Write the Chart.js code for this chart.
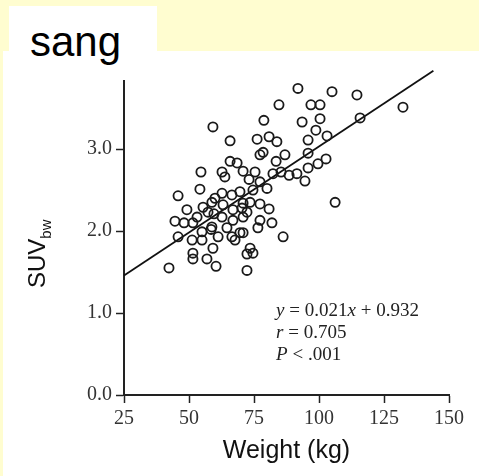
<!DOCTYPE html>
<html>
<head>
<meta charset="utf-8">
<script src="https://cdn.jsdelivr.net/npm/chart.js@4/dist/chart.umd.min.js"></script>
<style>
  html, body { margin: 0; padding: 0; }
  body { width: 479px; height: 476px; background: #FFFDD0; position: relative; overflow: hidden; }
  #panel { position: absolute; left: 3px; top: 51px; right: 0; bottom: 0; background: #fff; }
  #tag { position: absolute; left: 9px; top: 6px; width: 148px; height: 46px; background: #fff; }
  #tagText { position: absolute; left: 30px; top: 21px; font: 42px "Liberation Sans", Arial, sans-serif; color: #000; line-height: 1; }
  canvas { position: absolute; left: 0; top: 0; }
</style>
</head>
<body>
<div id="panel"></div>
<div id="tag"></div>
<div id="tagText">sang</div>
<canvas id="c" width="479" height="476"></canvas>
<script>
// Body weight (kg) and SUV normalised to body weight, one entry per patient
const weightKg = [
  59.2, 65.8, 65.8, 68.5, 70.8, 54.6, 62.7, 91.9, 105.0, 84.6,
  96.9, 100.4, 78.8, 93.5, 100.4, 98.8, 76.2, 80.8, 83.8, 95.8,
  103.1, 78.5, 77.3, 95.8, 86.9, 102.7, 99.6, 83.5, 75.4, 82.3,
  85.4, 91.5, 95.8, 114.6, 132.3, 115.8, 106.2, 94.6, 86.2, 81.9,
  80.8, 77.3, 76.5, 74.6, 72.3, 70.8, 88.5, 80.0, 72.3, 63.8,
  73.1, 77.3, 54.2, 66.5, 69.6, 74.6, 60.0, 58.8, 73.5, 55.4,
  63.1, 57.3, 66.9, 70.4, 72.3, 53.1, 62.7, 70.8, 77.3, 58.8,
  64.6, 66.9, 55.0, 69.6, 61.2, 66.5, 51.2, 55.0, 73.5, 45.8,
  49.2, 44.6, 48.1, 45.8, 51.5, 58.5, 59.2, 51.5, 51.5, 56.9,
  60.4, 42.3, 62.7, 70.8, 67.7, 59.6
];
const suvBw = [
  3.27, 3.10, 2.85, 2.83, 2.73, 2.72, 2.72, 3.74, 3.70, 3.54,
  3.54, 3.54, 3.35, 3.33, 3.37, 3.23, 3.12, 3.15, 3.09, 3.11,
  3.16, 2.96, 2.93, 2.95, 2.93, 2.88, 2.82, 2.85, 2.72, 2.70,
  2.72, 2.70, 2.77, 3.66, 3.51, 3.38, 2.35, 2.61, 1.93, 2.10,
  2.27, 2.33, 2.04, 1.73, 1.72, 1.98, 2.68, 2.52, 1.52, 2.66,
  2.63, 2.60, 2.51, 2.44, 2.48, 2.50, 2.40, 2.35, 2.35, 2.29,
  2.32, 2.23, 2.26, 2.28, 2.23, 2.17, 2.17, 2.17, 2.13, 2.05,
  2.04, 2.13, 1.99, 1.98, 1.93, 1.93, 1.89, 1.89, 1.79, 2.43,
  2.26, 2.12, 2.10, 1.93, 2.10, 2.02, 1.79, 1.73, 1.66, 1.66,
  1.57, 1.55, 2.46, 2.34, 1.89, 2.21
];

// Least-squares fit reported on the plot
const fitSlope = 0.021;
const fitIntercept = 0.932;
const fitRange = [25, 144];

const xTicks = [25, 50, 75, 100, 125, 150];
const yTicks = [0, 1, 2, 3];
const fitLines = [
  [{ t: 'y', i: true }, { t: ' = 0.021' }, { t: 'x', i: true }, { t: ' + 0.932' }],
  [{ t: 'r', i: true }, { t: ' = 0.705' }],
  [{ t: 'P', i: true }, { t: ' < .001' }]
];

const INK = '#222';
const SERIF = '"Liberation Serif", "Times New Roman", serif';
const SANS = '"Liberation Sans", Arial, sans-serif';

const points = weightKg.map((w, i) => ({ x: w, y: suvBw[i] }));
const fitPoints = fitRange.map(x => ({ x, y: fitSlope * x + fitIntercept }));

// Rotated y title with subscript, plus the fit statistics block
const extras = {
  id: 'extras',
  afterDraw(chart) {
    const ctx = chart.ctx;
    const xs = chart.scales.x, ys = chart.scales.y;
    ctx.save();
    ctx.fillStyle = '#111';
    ctx.textBaseline = 'alphabetic';
    ctx.translate(45, 288);
    ctx.rotate(-Math.PI / 2);
    ctx.font = '24px ' + SANS;
    ctx.fillText('SUV', 0, 0);
    const w = ctx.measureText('SUV').width;
    ctx.font = '15px ' + SANS;
    ctx.fillText('bw', w, 6);
    ctx.restore();

    ctx.save();
    ctx.fillStyle = INK;
    ctx.textBaseline = 'alphabetic';
    const x0 = xs.getPixelForValue(83.5);
    const baseVals = [0.963, 0.695, 0.427];
    fitLines.forEach((parts, k) => {
      let x = x0;
      const y = ys.getPixelForValue(baseVals[k]);
      parts.forEach(p => {
        ctx.font = (p.i ? 'italic ' : '') + '19px ' + SERIF;
        ctx.fillText(p.t, x, y);
        x += ctx.measureText(p.t).width;
      });
    });
    ctx.restore();
  }
};

new Chart(document.getElementById('c'), {
  type: 'scatter',
  data: {
    datasets: [
      {
        data: points,
        pointRadius: 4.6,
        pointBorderWidth: 1.8,
        pointBorderColor: '#1a1a1a',
        pointBackgroundColor: 'rgba(0,0,0,0)',
        clip: false
      },
      {
        data: fitPoints,
        showLine: true,
        pointRadius: 0,
        borderColor: '#111',
        borderWidth: 1.8,
        clip: false
      }
    ]
  },
  options: {
    responsive: false,
    devicePixelRatio: 1,
    animation: false,
    events: [],
    layout: { padding: { left: 0, right: 30, top: 81, bottom: 0 } },
    plugins: { legend: { display: false }, tooltip: { enabled: false } },
    scales: {
      x: {
        type: 'linear',
        min: 25, max: 150,
        afterFit: s => { s.height = 81; },
        afterBuildTicks: s => { s.ticks = xTicks.map(v => ({ value: v })); },
        ticks: { color: '#333', font: { family: SERIF, size: 20 }, padding: 4, callback: v => String(v) },
        grid: { drawOnChartArea: false, drawTicks: true, tickLength: 8, tickColor: INK, tickWidth: 1.5 },
        border: { display: true, color: INK, width: 2 },
        title: { display: true, text: 'Weight (kg)', color: '#111', font: { family: SANS, size: 25 }, padding: { top: 0, bottom: 10 } }
      },
      y: {
        type: 'linear',
        min: 0, max: 3.83,
        afterFit: s => { s.width = 124; },
        afterBuildTicks: s => { s.ticks = yTicks.map(v => ({ value: v })); },
        ticks: { color: '#333', font: { family: SERIF, size: 20 }, padding: 4, callback: v => v.toFixed(1) },
        grid: { drawOnChartArea: false, drawTicks: true, tickLength: 8, tickColor: INK, tickWidth: 1.5 },
        border: { display: true, color: INK, width: 2 }
      }
    }
  },
  plugins: [extras]
});
</script>
</body>
</html>
